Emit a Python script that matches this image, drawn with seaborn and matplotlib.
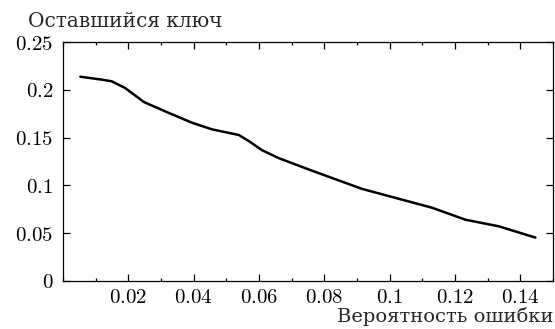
import matplotlib
matplotlib.use("Agg")
import matplotlib.pyplot as plt
import seaborn as sns
import pandas as pd
from matplotlib.ticker import MultipleLocator, FixedLocator

# Remaining key fraction vs. error probability
error_prob = [0.0053, 0.0119, 0.0149, 0.0190, 0.0231, 0.0247, 0.0323, 0.0395,
              0.0456, 0.0538, 0.0568, 0.0609, 0.0660, 0.0752, 0.0915, 0.1028,
              0.1130, 0.1232, 0.1334, 0.1446]
remaining_key = [0.2138, 0.2107, 0.2090, 0.2020, 0.1916, 0.1874, 0.1760, 0.1656,
                 0.1587, 0.1528, 0.1466, 0.1369, 0.1286, 0.1167, 0.0964, 0.0860,
                 0.0766, 0.0641, 0.0572, 0.0454]

x_ticks = [0.02, 0.04, 0.06, 0.08, 0.10, 0.12, 0.14]
x_tick_labels = ["0.02", "0.04", "0.06", "0.08", "0.1", "0.12", "0.14"]
y_ticks = [0, 0.05, 0.10, 0.15, 0.20, 0.25]
y_tick_labels = ["0", "0.05", "0.1", "0.15", "0.2", "0.25"]

sns.set_style("ticks")
plt.rcParams["font.family"] = ["DejaVu Serif"]
plt.rcParams["mathtext.fontset"] = "cm"
plt.rcParams["axes.unicode_minus"] = False

df = pd.DataFrame({"p": error_prob, "k": remaining_key})

fig = plt.figure(figsize=(5.55, 3.29), dpi=100)
ax = fig.add_axes([0.1135, 0.146, 0.883, 0.726])
sns.lineplot(data=df, x="p", y="k", ax=ax, color="black", linewidth=1.8)

ax.set_xlim(0, 0.15)
ax.set_ylim(0, 0.25)
ax.xaxis.set_major_locator(FixedLocator(x_ticks))
ax.set_xticklabels([f"${t}$" for t in x_tick_labels])
ax.xaxis.set_minor_locator(MultipleLocator(0.01))
ax.yaxis.set_major_locator(FixedLocator(y_ticks))
ax.set_yticklabels([f"${t}$" for t in y_tick_labels])

for s in ax.spines.values():
    s.set_visible(True)
    s.set_linewidth(0.9)
    s.set_color("black")

ax.tick_params(which="both", direction="in", top=True, right=True,
               colors="black", labelsize=15, width=0.9)
ax.tick_params(which="major", length=5, pad=5)
ax.tick_params(axis="y", which="major", pad=7)
ax.tick_params(which="minor", length=2.5)
ax.tick_params(axis="y", which="minor", left=False, right=False)

ax.set_xlabel("")
ax.set_ylabel("")
text_font = ["DejaVu Serif"]
fig.text(0.05, 0.918, "Оставшийся ключ", fontsize=14.5, family=text_font,
         ha="left", va="baseline")
fig.text(0.997, 0.02, "Вероятность ошибки", fontsize=14, family=text_font,
         ha="right", va="baseline")

fig.savefig("out.png", dpi=100)
